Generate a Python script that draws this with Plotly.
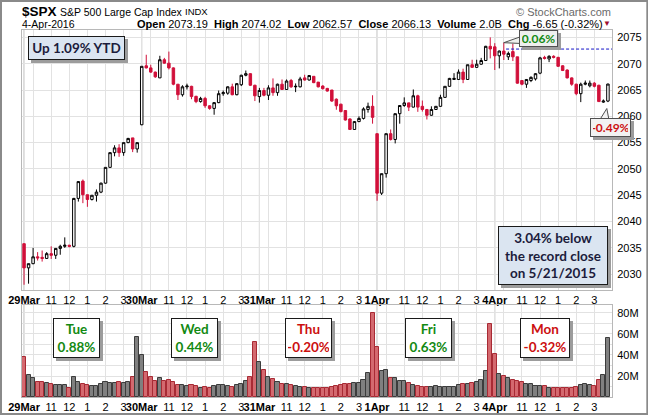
import plotly.graph_objects as go

# 15-minute bars, 26 per session, 5 sessions (29 Mar - 4 Apr 2016)
day_labels = ["29Mar", "30Mar", "31Mar", "1Apr", "4Apr"]
hour_offsets = [2, 6, 10, 14, 18, 22]
hour_labels = ["", "11", "12", "1", "2", "3"]

opens = [
    2035.8, 2031.2, 2032.0, 2033.3, 2033.2, 2033.0, 2033.9, 2033.6, 2034.9, 2035.3, 2035.5, 2035.3, 2044.4,
    2047.7, 2045.1, 2044.2, 2045.0, 2045.6, 2047.3, 2050.3, 2053.1, 2054.0, 2053.1, 2055.0, 2055.9, 2053.8,
    2058.4, 2069.6, 2069.2, 2068.4, 2067.3, 2070.75, 2070.1, 2069.2, 2066.1, 2064.1, 2065.6, 2065.7, 2063.8,
    2062.8, 2063.4, 2062.0, 2061.5, 2062.6, 2064.3, 2064.4, 2065.6, 2064.1, 2066.0, 2067.8, 2068.1, 2065.9,
    2063.75, 2064.9, 2064.0, 2065.4, 2064.5, 2066.1, 2065.1, 2066.8, 2065.6, 2065.6, 2067.3, 2066.9, 2067.6,
    2066.5, 2065.75, 2065.3, 2065.0, 2063.25, 2062.3, 2061.1, 2059.5, 2057.5, 2059.0, 2059.6, 2061.3, 2061.9,
    2056.7, 2045.4, 2049.1, 2056.7, 2055.6, 2060.5, 2062.05, 2062.55, 2061.75, 2063.9, 2061.9, 2061.3, 2060.2,
    2061.3, 2061.9, 2063.6, 2065.7, 2067.0, 2067.0, 2068.4, 2067.0, 2069.8, 2069.3, 2069.9, 2070.6, 2073.3,
    2073.2, 2071.5, 2072.4, 2071.3, 2072.3, 2071.3, 2066.8, 2066.1, 2066.8, 2067.1, 2068.2, 2071.2, 2070.9,
    2071.4, 2071.2, 2069.6, 2068.8, 2067.3, 2066.1, 2064.3, 2066.1, 2065.8, 2066.3, 2065.9, 2062.7, 2062.9,
]
highs = [
    2035.8, 2032.0, 2035.0, 2034.2, 2034.5, 2034.2, 2035.3, 2034.9, 2035.6, 2037.0, 2035.6, 2044.5, 2047.7,
    2048.0, 2045.1, 2045.0, 2046.1, 2047.4, 2050.3, 2053.1, 2054.5, 2054.7, 2055.0, 2055.9, 2055.9, 2055.0,
    2069.5, 2071.7, 2069.8, 2068.5, 2071.5, 2071.1, 2072.3, 2069.3, 2066.1, 2065.9, 2066.2, 2065.8, 2063.9,
    2063.7, 2063.7, 2062.1, 2062.7, 2064.9, 2064.9, 2065.7, 2066.2, 2066.3, 2067.9, 2068.7, 2068.2, 2066.0,
    2065.4, 2065.4, 2065.9, 2067.2, 2066.2, 2067.0, 2067.0, 2067.1, 2066.25, 2067.5, 2067.9, 2067.8, 2067.6,
    2066.5, 2065.9, 2065.4, 2065.0, 2063.4, 2062.4, 2061.1, 2059.6, 2059.1, 2060.0, 2061.7, 2062.6, 2064.0,
    2056.7, 2049.1, 2056.7, 2057.5, 2060.5, 2062.05, 2063.6, 2062.6, 2065.1, 2064.1, 2063.0, 2061.4, 2061.9,
    2061.9, 2064.1, 2065.7, 2067.3, 2068.2, 2068.9, 2069.05, 2069.8, 2070.75, 2070.75, 2071.1, 2073.4, 2075.0,
    2073.9, 2072.5, 2074.0, 2072.3, 2073.8, 2071.3, 2066.9, 2067.0, 2067.6, 2068.2, 2071.3, 2071.5, 2071.6,
    2071.6, 2071.3, 2069.7, 2068.9, 2067.4, 2066.2, 2066.4, 2066.8, 2066.8, 2066.5, 2066.0, 2063.2, 2066.2,
]
lows = [
    2028.0, 2028.2, 2031.9, 2032.6, 2032.4, 2032.9, 2032.9, 2032.9, 2033.7, 2035.0, 2035.1, 2035.1, 2043.8,
    2043.5, 2042.8, 2044.0, 2043.8, 2045.4, 2047.2, 2050.2, 2052.4, 2052.3, 2052.5, 2054.9, 2053.2, 2053.1,
    2058.3, 2069.1, 2068.25, 2067.3, 2067.3, 2070.0, 2068.9, 2065.9, 2063.1, 2063.75, 2065.1, 2063.25, 2062.5,
    2062.6, 2061.6, 2061.25, 2060.3, 2062.5, 2063.9, 2064.1, 2064.0, 2064.0, 2065.75, 2067.6, 2065.75, 2062.9,
    2062.6, 2063.8, 2063.1, 2063.9, 2063.9, 2065.0, 2065.0, 2065.4, 2064.6, 2065.5, 2066.8, 2066.8, 2066.3,
    2065.5, 2065.1, 2064.7, 2062.75, 2061.25, 2060.75, 2059.2, 2057.4, 2057.4, 2058.9, 2059.4, 2060.7, 2058.6,
    2043.95, 2045.05, 2048.35, 2055.4, 2054.85, 2058.6, 2061.8, 2061.0, 2061.7, 2060.85, 2060.9, 2059.4, 2060.1,
    2061.2, 2061.8, 2063.5, 2065.6, 2066.9, 2066.9, 2066.3, 2066.9, 2069.2, 2069.2, 2069.8, 2070.5, 2071.0,
    2068.8, 2069.1, 2070.7, 2070.7, 2070.5, 2066.2, 2065.9, 2065.4, 2066.5, 2066.8, 2068.0, 2070.8, 2070.3,
    2071.0, 2069.4, 2068.6, 2067.2, 2065.8, 2064.0, 2062.7, 2065.9, 2065.5, 2065.5, 2062.8, 2062.57, 2062.7,
]
closes = [
    2031.2, 2032.0, 2033.3, 2033.1, 2033.0, 2033.9, 2033.6, 2034.9, 2035.3, 2035.5, 2035.3, 2044.4, 2047.6,
    2045.1, 2044.2, 2045.0, 2045.6, 2047.3, 2050.3, 2053.1, 2054.0, 2053.1, 2055.0, 2055.8, 2053.8, 2055.0,
    2069.5, 2069.2, 2068.4, 2067.5, 2070.75, 2070.1, 2069.2, 2066.1, 2064.1, 2065.6, 2065.75, 2063.75, 2062.8,
    2063.4, 2062.0, 2061.5, 2062.6, 2064.3, 2064.5, 2065.6, 2064.1, 2066.2, 2067.8, 2068.1, 2065.9, 2063.9,
    2064.9, 2064.0, 2065.4, 2064.5, 2066.1, 2065.1, 2066.7, 2065.6, 2065.7, 2067.1, 2066.9, 2067.75, 2066.4,
    2065.6, 2065.25, 2064.8, 2062.9, 2062.0, 2060.9, 2059.3, 2057.5, 2059.0, 2059.6, 2061.4, 2061.9, 2059.8,
    2045.4, 2049.1, 2056.7, 2055.6, 2060.5, 2062.05, 2062.55, 2061.75, 2063.9, 2061.75, 2061.3, 2060.2, 2061.3,
    2061.9, 2063.6, 2065.7, 2067.2, 2067.2, 2068.4, 2067.0, 2069.8, 2069.3, 2069.9, 2070.6, 2073.3, 2072.8,
    2071.5, 2072.4, 2071.8, 2071.95, 2071.3, 2066.3, 2066.1, 2067.0, 2067.4, 2068.1, 2071.1, 2071.0, 2071.4,
    2071.2, 2069.5, 2068.7, 2067.3, 2066.1, 2064.3, 2066.1, 2066.3, 2066.3, 2065.7, 2062.8, 2062.9, 2066.13,
]
# volume in millions
volumes = [
    38.4, 21.1, 17.9, 14.4, 14.4, 13.4, 12.5, 11.5, 11.5, 11.5, 8.3, 19.2, 14.4,
    12.5, 11.5, 10.6, 10.6, 12.2, 14.4, 13.4, 13.4, 14.4, 13.8, 14.4, 19.2, 57.6,
    40.0, 23.4, 19.2, 15.4, 17.9, 15.4, 16.0, 14.7, 11.5, 11.5, 10.6, 11.0, 10.6,
    8.3, 9.6, 9.0, 10.2, 11.2, 11.2, 10.2, 9.6, 11.5, 12.8, 15.4, 19.2, 52.8,
    33.6, 25.6, 19.5, 17.3, 14.4, 12.8, 12.2, 11.5, 10.2, 9.9, 9.9, 8.3, 8.3,
    8.3, 8.9, 8.3, 9.6, 10.6, 11.5, 12.2, 12.2, 13.1, 13.1, 16.0, 22.7, 80.3,
    47.4, 25.0, 25.6, 17.9, 17.9, 15.4, 15.4, 13.1, 11.5, 10.6, 9.6, 9.9, 9.9,
    10.2, 9.9, 9.6, 9.6, 9.9, 11.5, 12.2, 12.2, 13.1, 14.7, 16.0, 25.0, 69.8,
    41.0, 21.8, 20.2, 17.9, 16.0, 15.4, 14.7, 12.2, 12.2, 10.6, 10.6, 10.3, 8.3,
    9.0, 8.3, 9.0, 8.3, 9.0, 9.6, 11.5, 12.2, 11.5, 10.6, 16.0, 20.8, 56.3,
]
day_names = ["Tue", "Wed", "Thu", "Fri", "Mon"]
day_changes = ["0.88%", "0.44%", "-0.20%", "0.63%", "-0.32%"]
prev_close = 2072.78

BARS = 26
x = list(range(len(closes)))
RED = "#d1103a"
GREEN = "#138a13"
FONT = "Liberation Sans"
BOXFONT = "Lato"

# pixel -> paper helpers (plot area: x 22..611.7, y 30..397)
L, R, T, B = 22, 611.7, 30, 397
def px(v): return (v - L) / (R - L)
def py(v): return (B - v) / (B - T)

tickvals, ticktext = [], []
for d, lab in enumerate(day_labels):
    tickvals.append(d * BARS); ticktext.append("<b>" + lab + "</b>")
    for off, h in zip(hour_offsets, hour_labels):
        tickvals.append(d * BARS + off); ticktext.append(h)

vol_fill = ["#d4696f" if c < o else "#808080" for o, c in zip(opens, closes)]
vol_line = ["#a82a34" if c < o else "#3c3c3c" for o, c in zip(opens, closes)]

fig = go.Figure()
fig.add_trace(go.Candlestick(
    x=x, open=opens, high=highs, low=lows, close=closes,
    increasing=dict(line=dict(color="black", width=1), fillcolor="white"),
    decreasing=dict(line=dict(color=RED, width=1), fillcolor=RED),
    whiskerwidth=0, showlegend=False, xaxis="x", yaxis="y",
))
fig.add_trace(go.Bar(
    x=x, y=volumes, marker=dict(color=vol_fill, line=dict(color=vol_line, width=1)),
    width=0.9, showlegend=False, xaxis="x2", yaxis="y2",
))

xr = [-0.45, 129.9]
axis_common = dict(range=xr, tickvals=tickvals, ticktext=ticktext, tickangle=0,
                   showgrid=True, gridcolor="#e2e2e2", gridwidth=1, zeroline=False,
                   showline=True, mirror=True, linecolor="#b8b8b8", linewidth=1,
                   ticks="", tickfont=dict(family=FONT, size=11, color="black"),
                   automargin=False)
yaxis_common = dict(side="right", showgrid=True, gridcolor="#e2e2e2", zeroline=False,
                    showline=True, mirror=True, linecolor="#b8b8b8", ticks="outside",
                    ticklen=2, tickcolor="rgba(0,0,0,0)", automargin=False,
                    tickfont=dict(family=FONT, size=11, color="black"))

fig.update_layout(
    width=648, height=415, margin=dict(l=L, r=648 - R, t=T, b=415 - B),
    paper_bgcolor="white", plot_bgcolor="white", boxgap=0.22, bargap=0,
    xaxis=dict(domain=[0, 1], anchor="y", rangeslider=dict(visible=False), **axis_common),
    xaxis2=dict(domain=[0, 1], anchor="y2", **axis_common),
    yaxis=dict(domain=[py(290), 1], range=[2027.0, 2076.4], tick0=2030, dtick=5, **yaxis_common),
    yaxis2=dict(domain=[0, py(305)], range=[0, 87.6],
                tickvals=[10, 20, 30, 40, 50, 60, 70, 80],
                ticktext=["", "20M", "", "40M", "", "60M", "", "80M"], **yaxis_common),
)

shapes = []
for d in range(len(day_labels)):
    for yr in ["y", "y2"]:
        top = 2076.4 if yr == "y" else 87.6
        bot = 2027.0 if yr == "y" else 0
        shapes.append(dict(type="line", xref="x" if yr == "y" else "x2", yref=yr,
                           x0=d * BARS, x1=d * BARS, y0=bot, y1=top,
                           line=dict(color="#b4b4b4", width=1), layer="below"))
# previous-close reference line
shapes.append(dict(type="line", xref="x", yref="y", x0=106.5, x1=xr[1], y0=prev_close, y1=prev_close,
                   line=dict(color="#1414c8", width=1, dash="3px,2px")))
# outer frame
shapes.append(dict(type="rect", xref="paper", yref="paper", x0=px(1), x1=px(647), y0=py(414), y1=py(1),
                   line=dict(color="#8a8a8a", width=2)))
# callout tails
def tri(pts, fill):
    path = "M " + " L ".join(f"{px(a):.4f},{py(b):.4f}" for a, b in pts) + " Z"
    return dict(type="path", xref="paper", yref="paper", path=path,
                fillcolor=fill, line=dict(color="#505050", width=1))
shapes.append(tri([(521, 36.5), (503.5, 42.7), (521, 43.5)], "#eef0ee"))
shapes.append(tri([(600, 119), (606.5, 108.5), (608.5, 119)], "#f2f2f2"))
fig.update_layout(shapes=shapes)

ann = []
def box(text, cx, cy, w, h, color, bg, size, border="#1a1a1a", shadow=True, pad=2):
    base = dict(xref="paper", yref="paper", x=px(cx), y=py(cy), xanchor="center", yanchor="middle",
                showarrow=False, width=w - 2 * pad - 2, height=h - 2 * pad - 2, borderpad=pad,
                borderwidth=1, align="center", valign="middle")
    if shadow:
        ann.append(dict(base, text=" ", bgcolor="#9c9c9c", bordercolor="#9c9c9c",
                        xshift=3, yshift=-3, font=dict(size=size)))
    ann.append(dict(base, text=text, bgcolor=bg, bordercolor=border,
                    font=dict(family=BOXFONT, size=size, color=color)))

box("<b>Up 1.09% YTD</b>", 76.5, 48, 97, 24, "#1c1c3c", "#dbe5f1", 13.5)
box("<b>3.04% below<br>the record close<br>on 5/21/2015</b>", 553, 255.5, 110, 59, "#1c1c3c", "#dbe5f1", 13.5)
box("<b>0.06%</b>", 538.5, 38.5, 39, 17, GREEN, "#eef0ee", 12, border="#505050")
box("<b>-0.49%</b>", 610, 127.5, 41, 19, "#cc1010", "#f2f2f2", 12, border="#505050")
centers = [76.5, 194, 308.5, 428.5, 545]
for name, chg, cx in zip(day_names, day_changes, centers):
    col = "#cc1010" if chg.startswith("-") else GREEN
    box(f"<b>{name}<br>{chg}</b>", cx, 338, 50 if name == "Mon" else 47, 40, col, "white", 13.5)

# header
def head(text, xpix, ypix, size, color="black", anchor="left"):
    ann.append(dict(xref="paper", yref="paper", x=px(xpix), y=py(ypix), xanchor=anchor,
                    yanchor="middle", showarrow=False, text=text, borderpad=0,
                    font=dict(family=FONT, size=size, color=color)))

head("<b>$SPX</b>", 21, 11.5, 13.5)
head("S&P 500 Large Cap Index", 59, 11.5, 10.5)
head("INDX", 184, 11.5, 9.5)
head("4-Apr-2016", 21, 24, 10.5)
head("<b>Open</b> 2073.19  <b>High</b> 2074.02  <b>Low</b> 2062.57  <b>Close</b> 2066.13  "
     "<b>Volume</b> 2.0B  <b>Chg</b> -6.65 (-0.32%)", 136, 24, 11)
head("\u25BC", 602, 24, 8, color="#a01030")
head("\u00A9 StockCharts.com", 612, 12, 11, color="#6a6a6a", anchor="right")

fig.update_layout(annotations=ann)
fig.write_html("out.html", config={"displayModeBar": False},
               post_script="document.body.style.margin='0px';")
